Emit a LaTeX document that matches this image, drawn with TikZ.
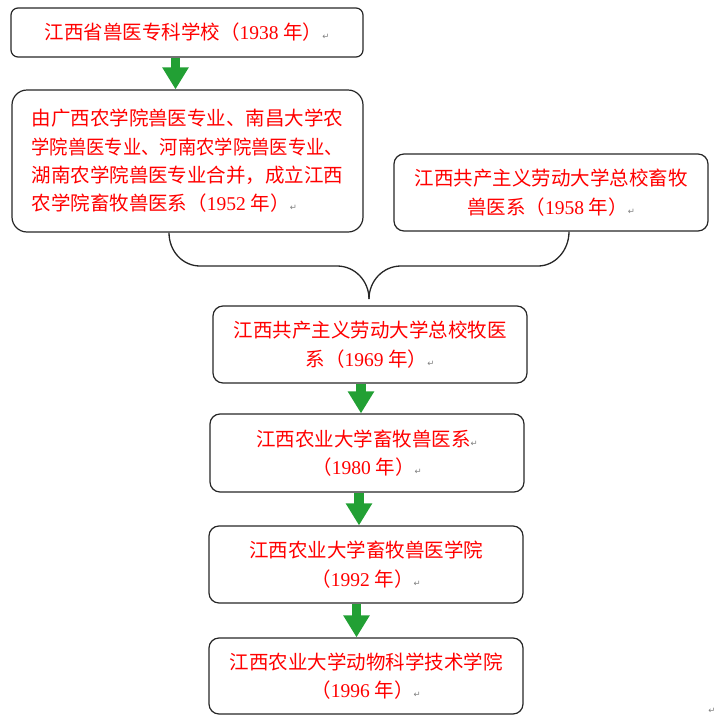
\documentclass[tikz,border=0pt]{standalone}
\usepackage{fontspec}
\usepackage{graphicx}
\usetikzlibrary{arrows.meta}
\setmainfont{Noto Sans CJK SC}
\newfontfamily\lat{Liberation Serif}
\newfontfamily\dejavu{DejaVu Sans}
\definecolor{arrgreen}{RGB}{34,160,52}
\definecolor{txtred}{RGB}{255,0,0}
\definecolor{pmgray}{RGB}{128,128,128}
\newcommand\pmk{{\dejavu\fontsize{8.5}{8.5}\selectfont\textcolor{pmgray}{↵}}}
\newcommand\yrtag[1]{（{\lat #1 }年）\pmk}
\tikzset{
  box/.style={draw=black!85, line width=1.2pt, rounded corners=10pt, text=txtred,
    font=\fontsize{19.5}{28.4}\selectfont, align=center, inner sep=2pt},
  conn/.style={draw=black!85, line width=1.3pt},
  garrow/.style={draw=arrgreen, line width=9.5pt, -{Triangle[width=25pt,length=22pt]}}
}
\begin{document}
\begin{tikzpicture}[x=1pt,y=-1pt]
\useasboundingbox (0,0) rectangle (715,726);
% boxes
\node[box, rounded corners=7pt, minimum width=352pt, minimum height=49pt] (b1) at (187,32.5)
  {江西省兽医专科学校\yrtag{1938}};
\node[box, rounded corners=15pt, minimum width=351pt, minimum height=142pt, align=left,
  font=\fontsize{19.5}{28.3}\selectfont] (b2) at (187.5,161)
  {由广西农学院兽医专业、南昌大学农\\\scalebox{0.94}[1]{学院兽医专业、河南农学院兽医专业、}\\湖南农学院兽医专业合并，成立江西\\农学院畜牧兽医系\yrtag{1952}};
\node[box, minimum width=314pt, minimum height=77pt] (b3) at (551,192.5)
  {江西共产主义劳动大学总校畜牧\\兽医系\yrtag{1958}};
\node[box, minimum width=314pt, minimum height=77pt] (b4) at (370,344.5)
  {江西共产主义劳动大学总校牧医\\系\yrtag{1969}};
\node[box, minimum width=314pt, minimum height=78pt] (b5) at (367,453)
  {江西农业大学畜牧兽医系\pmk\\\yrtag{1980}};
\node[box, minimum width=314pt, minimum height=77pt] (b6) at (366,564.5)
  {江西农业大学畜牧兽医学院\\\yrtag{1992}};
\node[box, minimum width=314pt, minimum height=76pt] (b7) at (366,676)
  {江西农业大学动物科学技术学院\\\yrtag{1996}};
\node[inner sep=0pt] (endmark) at (712,711) {\pmk};
% green arrows
\draw[garrow] (175.5,0 |- b1.south) -- (175.5,0 |- b2.north);
\draw[garrow] (361,0 |- b4.south) -- (361,0 |- b5.north);
\draw[garrow] (359,0 |- b5.south) -- (359,0 |- b6.north);
\draw[garrow] (356.5,0 |- b6.south) -- (356.5,0 |- b7.north);
% brace
\coordinate (bl) at (169,0 |- b2.south);
\coordinate (br) at (569,0 |- b3.south);
\coordinate (tip) at (369,299);
\draw[conn] (bl) .. controls +(0,19) and +(-17,0) .. (200,266) -- (337,266)
  .. controls +(18,0) and +(0,-18) .. (tip);
\draw[conn] (br) .. controls +(0,19) and +(17,0) .. (538,266) -- (401,266)
  .. controls +(-18,0) and +(0,-18) .. (tip);
\end{tikzpicture}
\end{document}
